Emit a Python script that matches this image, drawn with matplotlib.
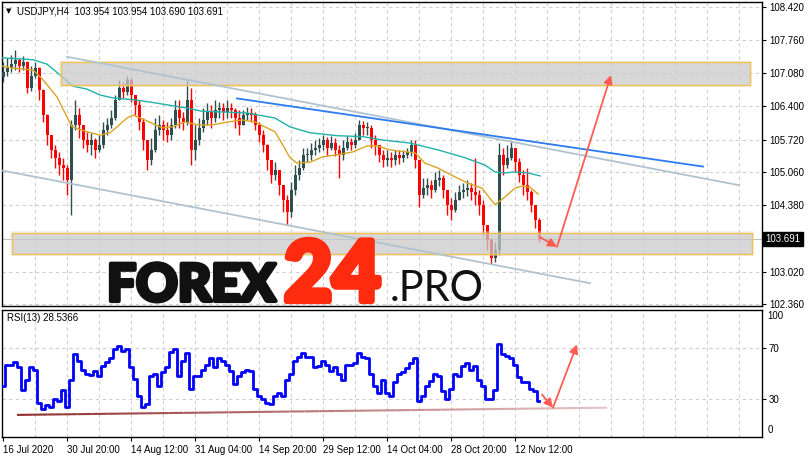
"""USDJPY H4 chart with RSI(13) pane, MetaTrader style."""
import matplotlib
matplotlib.use("Agg")
import matplotlib.pyplot as plt
import matplotlib.transforms as mtransforms
import matplotlib.patheffects as pe
from matplotlib.collections import LineCollection
from matplotlib.patches import Rectangle
import numpy as np

plt.rcParams["font.family"] = ["Liberation Sans", "DejaVu Sans"]

# ---------------------------------------------------------------- data
# one candle every 4 H4 bars (bar index = 1 + 4*i)
first_open = 107.00
closes = [107.10, 107.18, 107.26, 107.35, 107.22, 107.30, 106.77, 107.02, 107.18, 106.73,
          106.22, 105.82, 105.51, 105.35, 105.20, 105.14, 104.90, 106.02, 106.22, 106.02,
          105.71, 105.61, 105.71, 105.51, 105.61, 105.92, 106.02, 106.16, 106.53, 106.77,
          106.69, 106.94, 106.63, 106.43, 106.08, 105.71, 105.30, 105.51, 105.92, 106.02,
          105.92, 105.82, 106.02, 106.33, 106.16, 106.08, 106.53, 105.51, 105.71, 105.96,
          106.12, 106.28, 106.16, 106.33, 106.37, 106.28, 106.37, 106.33, 106.16, 106.02,
          106.22, 106.26, 106.22, 106.02, 105.82, 105.61, 105.30, 105.00, 105.10, 104.79,
          104.49, 104.24, 104.69, 105.00, 105.14, 105.41, 105.41, 105.51, 105.55, 105.61,
          105.71, 105.55, 105.65, 105.51, 105.41, 105.55, 105.67, 105.61, 105.71, 106.02,
          105.96, 105.96, 105.71, 105.61, 105.41, 105.30, 105.35, 105.30, 105.41, 105.35,
          105.41, 105.47, 105.61, 105.30, 104.59, 104.73, 104.79, 104.69, 104.90, 104.94,
          104.69, 104.39, 104.28, 104.49, 104.65, 104.69, 104.73, 104.65, 104.59, 104.39,
          103.98, 103.67, 103.30, 103.47, 105.41, 105.20, 105.35, 105.55, 105.26, 105.00,
          104.79, 104.65, 104.39, 104.08, 103.69]
highs = [107.30, 107.39, 107.45, 107.55, 107.39, 107.43, 107.32, 107.22, 107.30, 107.20,
         106.75, 106.25, 105.82, 105.61, 105.47, 105.35, 105.20, 106.12, 106.53, 106.37,
         106.02, 105.88, 105.86, 105.75, 105.82, 106.08, 106.16, 106.33, 106.63, 106.94,
         106.90, 107.02, 106.98, 106.63, 106.53, 106.16, 105.71, 105.75, 106.16, 106.22,
         106.12, 106.08, 106.16, 106.53, 106.53, 106.28, 106.94, 106.77, 106.02, 106.16,
         106.37, 106.47, 106.43, 106.53, 106.49, 106.47, 106.53, 106.47, 106.37, 106.33,
         106.33, 106.39, 106.37, 106.28, 106.08, 105.92, 105.63, 105.30, 105.26, 105.10,
         104.79, 104.59, 104.86, 105.20, 105.30, 105.55, 105.55, 105.65, 105.71, 105.75,
         105.82, 105.78, 105.80, 105.75, 105.61, 105.71, 105.80, 105.75, 105.86, 106.12,
         106.10, 106.08, 106.02, 105.82, 105.61, 105.51, 105.51, 105.47, 105.51, 105.51,
         105.51, 105.55, 105.71, 105.71, 105.30, 104.94, 104.94, 104.90, 105.06, 105.10,
         105.00, 104.69, 104.53, 104.65, 104.79, 104.83, 104.90, 104.83, 105.35, 104.69,
         104.49, 103.98, 103.71, 103.63, 105.65, 105.55, 105.61, 105.67, 105.55, 105.35,
         105.10, 105.14, 104.69, 104.39, 104.12]
lows = [106.90, 107.02, 107.10, 107.14, 107.10, 107.14, 106.67, 106.72, 106.98, 106.53,
        106.08, 105.61, 105.35, 105.14, 105.00, 104.90, 104.59, 104.18, 105.92, 105.75,
        105.55, 105.47, 105.41, 105.35, 105.47, 105.55, 105.82, 105.96, 106.12, 106.53,
        106.57, 106.63, 106.49, 106.22, 105.92, 105.51, 105.10, 105.20, 105.47, 105.82,
        105.71, 105.67, 105.71, 105.96, 105.96, 105.92, 106.02, 105.20, 105.30, 105.61,
        105.88, 106.02, 105.96, 106.08, 106.16, 106.12, 106.16, 106.16, 105.96, 105.82,
        106.02, 106.12, 106.08, 105.92, 105.67, 105.47, 105.10, 104.83, 104.90, 104.59,
        104.24, 103.98, 104.15, 104.59, 104.90, 105.10, 105.26, 105.30, 105.41, 105.47,
        105.51, 105.41, 105.51, 105.39, 104.94, 105.30, 105.51, 105.51, 105.55, 105.71,
        105.82, 105.82, 105.55, 105.41, 105.26, 105.16, 105.18, 105.16, 105.20, 105.22,
        105.26, 105.35, 105.39, 105.14, 104.35, 104.53, 104.59, 104.53, 104.65, 104.77,
        104.53, 104.18, 104.08, 104.24, 104.49, 104.53, 104.57, 104.49, 104.39, 104.18,
        103.77, 103.47, 103.18, 103.22, 103.37, 105.00, 105.14, 105.30, 105.06, 104.86,
        104.59, 104.49, 104.24, 103.92, 103.63]
rsi = [40, 57, 57, 59, 55, 37, 45, 55, 53, 27,
       22, 25, 24, 30, 28, 37, 24, 45, 65, 60,
       53, 50, 49, 52, 48, 56, 59, 62, 69, 72,
       68, 69, 55, 46, 32, 24, 26, 48, 50, 40,
       51, 55, 67, 69, 48, 60, 66, 38, 48, 48,
       53, 57, 62, 55, 62, 60, 57, 52, 42, 48,
       51, 53, 52, 38, 32, 30, 27, 26, 32, 35,
       32, 45, 50, 60, 63, 66, 63, 63, 55, 56,
       60, 57, 52, 55, 50, 45, 57, 57, 58, 66,
       63, 62, 50, 40, 35, 45, 35, 32, 43, 50,
       51, 54, 58, 62, 28, 32, 40, 44, 50, 48,
       36, 30, 38, 50, 48, 56, 58, 53, 56, 45,
       40, 30, 30, 37, 73, 65, 64, 62, 57, 47,
       43, 43, 38, 36, 28.5366]

# moving averages (bar index, price)
ma_slow_x = [0, 31, 45, 58, 71, 85, 98, 111, 133, 153, 183, 200, 226, 246, 273, 288,
             308, 335, 361, 381, 408, 436, 463, 483, 493, 503, 513, 526, 538]
ma_slow_y = [107.39, 107.35, 107.26, 107.04, 106.81, 106.75, 106.63, 106.57, 106.53,
             106.47, 106.37, 106.30, 106.28, 106.26, 106.16, 105.98, 105.86, 105.80,
             105.78, 105.71, 105.65, 105.51, 105.35, 105.20, 105.06, 105.04, 105.06,
             105.04, 104.98]
ma_fast_x = [0, 11, 31, 41, 55, 65, 70, 85, 98, 108, 115, 125, 131, 143, 160, 170, 183,
             196, 210, 226, 240, 253, 263, 273, 278, 288, 295, 308, 321, 335, 351, 365,
             375, 388, 413, 423, 436, 453, 466, 480, 493, 503, 513, 520, 528, 536]
ma_fast_y = [107.22, 107.18, 107.14, 106.94, 106.59, 106.18, 105.98, 105.88, 105.81,
             105.86, 105.98, 106.16, 106.22, 106.12, 105.96, 105.98, 106.08, 106.02,
             106.02, 106.08, 106.12, 106.08, 105.98, 105.88, 105.71, 105.35, 105.24,
             105.26, 105.37, 105.41, 105.47, 105.59, 105.59, 105.51, 105.45, 105.24,
             105.14, 104.96, 104.83, 104.73, 104.39, 104.55, 104.73, 104.77, 104.75,
             104.61]

# drawn objects (bar index, price)
channel_top = ([65, 737], [107.41, 104.79])
channel_bottom = ([0, 588], [105.09, 102.79])
blue_line = ([235, 701], [106.56, 105.17])
zone_top = (59, 748, 106.83, 107.30)
zone_bottom = (10, 750, 103.38, 103.82)
arrow_down = ((538, 103.73), (555, 103.53))
arrow_up = ((555, 103.53), (609, 107.04))
rsi_support = ([15, 605], [17.4, 23.1])
rsi_arrow_down = ((540, 33.4), (551, 23.1))
rsi_arrow_up = ((551, 23.1), (575, 72.9))

last_price = 103.691
price_ticks = [108.42, 107.76, 107.08, 106.40, 105.72, 105.06, 104.38, 103.70, 103.02, 102.36]
date_pos = [1, 65, 129, 193, 257, 321, 385, 449, 513]
date_labels = ["16 Jul 2020", "30 Jul 20:00", "14 Aug 12:00", "31 Aug 04:00", "14 Sep 20:00",
               "29 Sep 12:00", "14 Oct 04:00", "28 Oct 20:00", "12 Nov 12:00"]

# ---------------------------------------------------------------- figure
W, H = 808, 458
fig = plt.figure(figsize=(W / 100, H / 100), dpi=100)


def px_axes(x0, y0, x1, y1):
    return fig.add_axes([x0 / W, 1 - y1 / H, (x1 - x0) / W, (y1 - y0) / H])


ax = px_axes(2, 2, 762, 306)
ax_rsi = px_axes(2, 310, 762, 437)

GRID = dict(color="#cfcfcf", linestyle=(0, (3, 3)), linewidth=0.8, zorder=0)
UP, DOWN = "#2f4f4f", "#ff0000"
ARROW = "#ff5c52"

for a in (ax, ax_rsi):
    a.set_xlim(0, 760)
    for x in range(33, 760, 32):
        a.axvline(x, **GRID)
    for s in a.spines.values():
        s.set_color("black")
        s.set_linewidth(1.0)
    a.tick_params(axis="y", which="both", left=False, right=True, labelleft=False,
                  labelright=True, direction="out", length=3, width=0.8, pad=2, labelsize=7)

# candles
closes_a = np.array(closes)
opens_a = np.concatenate([[first_open], closes_a[:-1]])
xs = 1 + 4 * np.arange(len(closes))
colors = [UP if c >= o else DOWN for o, c in zip(opens_a, closes_a)]
ax.vlines(xs, lows, highs, colors=colors, linewidth=1.0, zorder=3)
body_h = np.where(np.abs(closes_a - opens_a) < 0.02, 0.02, closes_a - opens_a)
ax.bar(xs, body_h, bottom=opens_a, width=3.0, color=colors, linewidth=0, zorder=3)

# moving averages
ax.plot(ma_slow_x, ma_slow_y, color="#20b2aa", linewidth=1.0, zorder=4)
ax.plot(ma_fast_x, ma_fast_y, color="#daa520", linewidth=1.0, zorder=4)

# price axis
ax.set_ylim(102.325, 108.528)
for p in price_ticks:
    ax.axhline(p, **GRID)
ax.set_yticks(price_ticks)
ax.set_yticklabels([f"{p:.3f}" if abs(p - 103.70) > 0.01 else "" for p in price_ticks])
ax.set_xticks([])
ax.axhline(last_price, color="#c0c0c0", linewidth=0.8, zorder=1)

# zones
for x0, x1, y0, y1 in (zone_top, zone_bottom):
    ax.add_patch(Rectangle((x0 - 2, y0 - 0.03), x1 - x0 + 4, y1 - y0 + 0.06,
                           facecolor=(0.85, 0.85, 0.85, 0.35), edgecolor="none", zorder=5))
    ax.add_patch(Rectangle((x0, y0), x1 - x0, y1 - y0, facecolor=(0.78, 0.78, 0.78, 0.6),
                           edgecolor="#f2c24f", linewidth=1.0, zorder=5))

# trend lines
ax.plot(*channel_top, color="#afc3d1", linewidth=1.3, zorder=6)
ax.plot(*channel_bottom, color="#afc3d1", linewidth=1.3, zorder=6)
ax.plot(*blue_line, color="#2d7bf0", linewidth=1.3, zorder=6)

for start, end in (arrow_down, arrow_up):
    ax.annotate("", xy=end, xytext=start, zorder=7,
                arrowprops=dict(arrowstyle="-|>", color=ARROW, lw=1.3,
                                mutation_scale=13, shrinkA=0, shrinkB=0))

# last price tag
tr = mtransforms.blended_transform_factory(ax.transAxes, ax.transData)
ax.text(1.004, last_price, "103.691", transform=tr, ha="left", va="center", fontsize=7,
        color="white", zorder=10, clip_on=False,
        bbox=dict(boxstyle="square,pad=0.25", facecolor="black", edgecolor="black"))

# header
fig.text(6 / W, 1 - 11 / H, "\u25bc", fontsize=5, va="center", family="DejaVu Sans")
fig.text(17 / W, 1 - 11 / H, "USDJPY,H4  103.954 103.954 103.690 103.691",
         fontsize=7, va="center")

# ---------------------------------------------------------------- RSI pane
ax_rsi.set_ylim(0, 100)
for lvl in (70, 30):
    ax_rsi.axhline(lvl, **GRID)
ax_rsi.set_yticks([70, 30])
ax_rsi.set_yticklabels(["70", "30"])
trr = mtransforms.blended_transform_factory(ax_rsi.transAxes, ax_rsi.transData)
ax_rsi.text(1.007, 95.5, "100", transform=trr, fontsize=7, va="center", ha="left")
ax_rsi.text(1.007, 5.5, "0", transform=trr, fontsize=7, va="center", ha="left")

ax_rsi.plot(xs, rsi, color="#0000ff", linewidth=2.0, drawstyle="steps-mid", zorder=4)

# support line fading to the right
sx = np.linspace(rsi_support[0][0], rsi_support[0][1], 40)
sy = np.interp(sx, *rsi_support)
segs = np.stack([np.column_stack([sx[:-1], sy[:-1]]), np.column_stack([sx[1:], sy[1:]])], axis=1)
fade = np.linspace(0, 1, len(segs))[:, None]
seg_colors = (1 - fade) * np.array([0.56, 0.18, 0.18, 1.0]) + fade * np.array([0.90, 0.76, 0.76, 1.0])
ax_rsi.add_collection(LineCollection(segs, colors=seg_colors, linewidths=1.5, zorder=5))

for start, end in (rsi_arrow_down, rsi_arrow_up):
    ax_rsi.annotate("", xy=end, xytext=start, zorder=7,
                    arrowprops=dict(arrowstyle="-|>", color=ARROW, lw=1.3,
                                    mutation_scale=13, shrinkA=0, shrinkB=0))
ax_rsi.text(5 / 760, 1 - 8 / 127, "RSI(13) 28.5366", transform=ax_rsi.transAxes,
            fontsize=7, va="center", ha="left")

ax_rsi.set_xticks(date_pos)
ax_rsi.set_xticklabels(date_labels, ha="left", fontsize=7)
ax_rsi.tick_params(axis="x", direction="out", length=3, width=0.8, pad=3)

# ---------------------------------------------------------------- watermark
WM = ["Lato", "DejaVu Sans"]
fig.text(107 / W, 1 - 301 / H, "FOREX", fontsize=37, family=WM, fontweight="black",
         color="#111111", va="baseline", ha="left",
         path_effects=[pe.withStroke(linewidth=3.0, foreground="#111111")])
fig.text(284 / W, 1 - 301 / H, "24", fontsize=60, family=WM, fontweight="black",
         color="#ff2b0e", va="baseline", ha="left",
         path_effects=[pe.withStroke(linewidth=4.5, foreground="#ff2b0e")])
fig.text(390 / W, 1 - 301 / H, ".PRO", fontsize=30, family=WM, fontweight="normal",
         color="#111111", va="baseline", ha="left")

fig.savefig("out.png", dpi=100)
